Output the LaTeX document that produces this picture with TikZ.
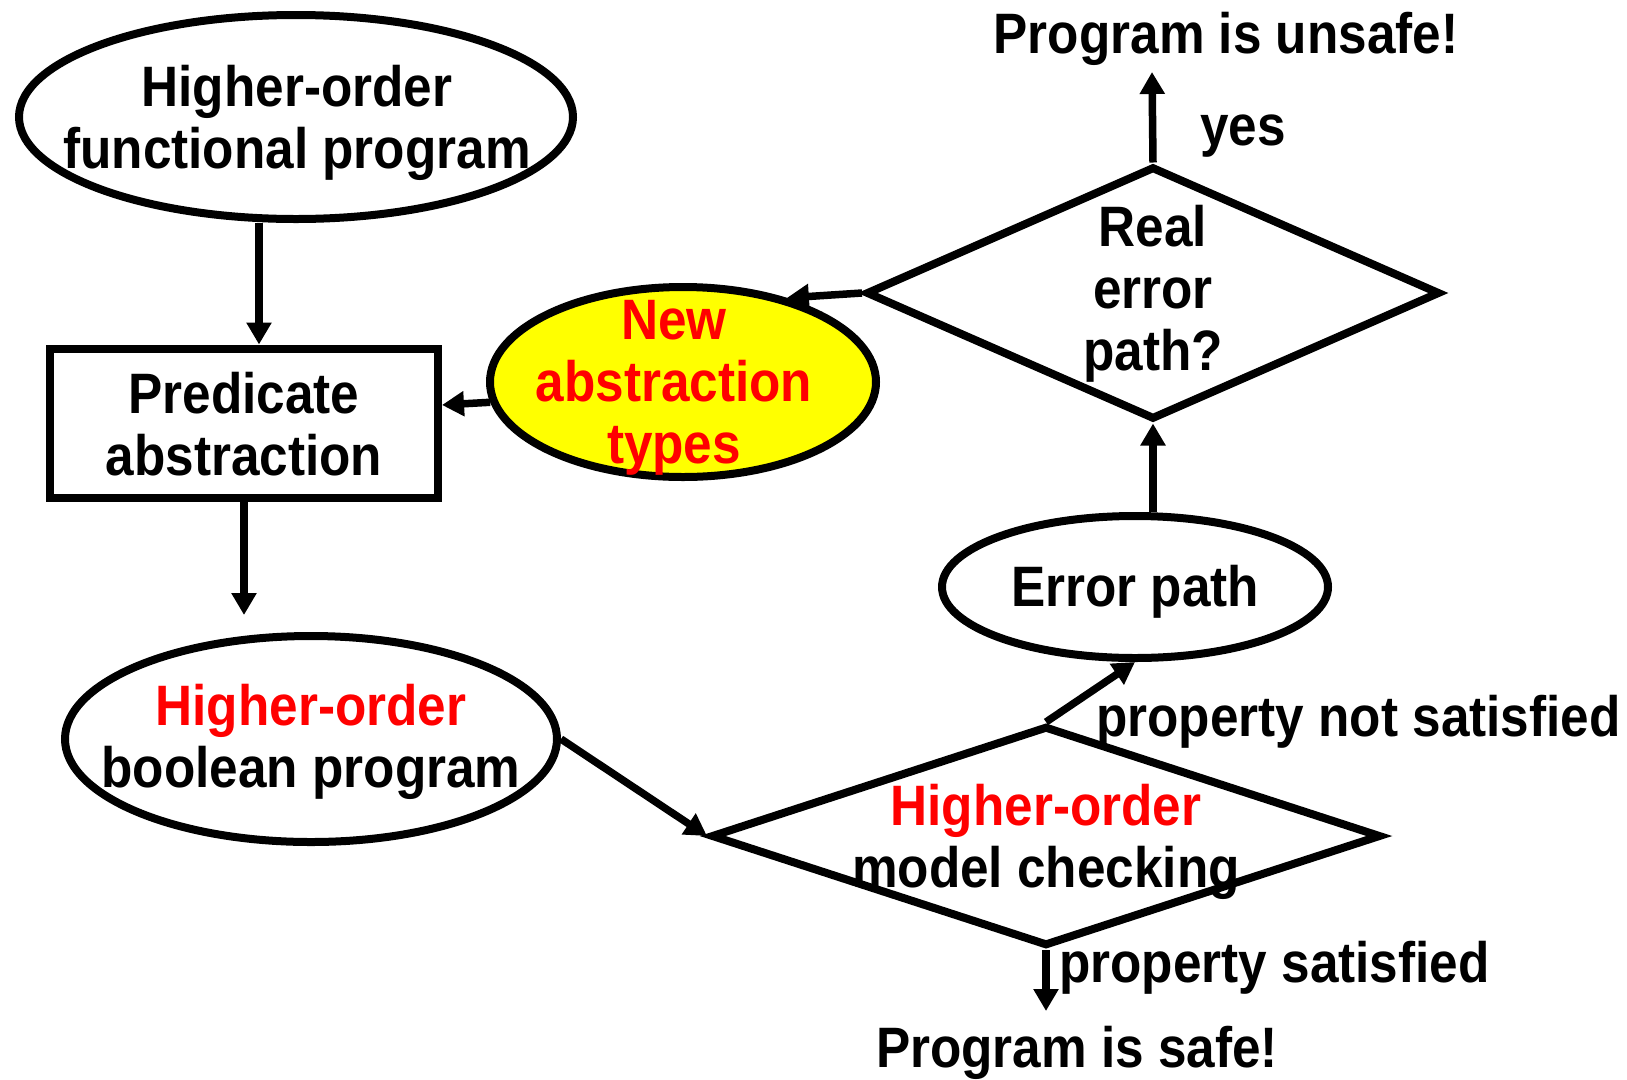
\documentclass[tikz,border=0pt]{standalone}
\usepackage{fontspec}
\setmainfont{Liberation Sans}[FakeStretch=0.9]
\usetikzlibrary{shapes.geometric,arrows.meta,calc}
\definecolor{hlred}{RGB}{255,0,0}
\definecolor{hlyellow}{RGB}{255,255,0}
\newcommand{\bigtxt}{\fontsize{57}{62}\selectfont\bfseries}
\tikzset{
  oval/.style={ellipse, draw, line width=8pt, inner sep=0pt},
  block/.style={rectangle, draw, line width=8pt, inner sep=0pt},
  decision/.style={diamond, draw, line width=8pt, inner sep=0pt},
  lbl/.style={align=center, inner sep=0pt, font=\bigtxt},
  arr/.style={line width=7.5pt, -{Triangle[length=22pt,width=24pt]}}
}
\begin{document}
\begin{tikzpicture}[x=1pt, y=-1pt]
  \fill[white] (0,0) rectangle (1627,1079);

  % shapes
  \node[oval, minimum width=554pt, minimum height=204pt] (fp) at (296,117) {};
  \node[block, minimum width=388pt, minimum height=149pt] (pa) at (244,423) {};
  \node[oval, fill=hlyellow, minimum width=386pt, minimum height=190pt] (ne) at (683,382) {};
  \node[decision, minimum width=574pt, minimum height=253pt] (rd) at (1153,293) {};
  \node[oval, minimum width=386pt, minimum height=142pt] (ep) at (1135,587) {};
  \node[oval, minimum width=492pt, minimum height=206pt] (bp) at (311,739) {};
  \node[decision, minimum width=670pt, minimum height=220pt] (mc) at (1046,836) {};

  % texts inside the shapes
  \node[lbl] (fptext) at (297,123) {Higher-order\\functional program};
  \node[lbl] (patext) at (244,424) {Predicate\\abstraction};
  \node[lbl, text=hlred] (netext) at (674,388) {New\\abstraction\\types};
  \node[lbl] (rdtext) at (1153,294) {Real\\error\\path?};
  \node[lbl] (eptext) at (1135,592) {Error path};
  \node[lbl] (bptext) at (311,742) {\textcolor{hlred}{Higher-order}\\boolean program};
  \node[lbl] (mctext) at (1046,842) {\textcolor{hlred}{Higher-order}\\model checking};

  % outcome texts and edge labels
  \node[lbl] (unsafe) at (1226,39) {Program is unsafe!};
  \node[lbl] (safe) at (1077,1053) {Program is safe!};
  \node[lbl] (yes) at (1243,136) {yes};
  \node[lbl, anchor=west] (pns) at (1096,722) {property not satisfied};
  \node[lbl, anchor=west] (ps) at (1059,968) {property satisfied};

  \coordinate (uptip) at (1152,72);
  \coordinate (downtip) at (1046,1011);

  % connectors
  \draw[arr] ([xshift=-37pt]fp.south) -- ([xshift=-37pt]fp.south |- pa.north);
  \draw[arr] (pa.south) -- ($(pa.south |- bp.north)+(0,-17)$);
  \draw[arr] (ne.186) -- ([yshift=18pt]pa.east);
  \draw[arr] (rd.west) -- (ne.39);
  \draw[arr] (rd.north) -- (uptip);
  \draw[arr] (rd.south |- ep.north) -- (rd.south);
  \draw[arr] (mc.north) -- (ep.south);
  \draw[arr] (bp.east) -- (mc.west);
  \draw[arr] (mc.south) -- (downtip);
\end{tikzpicture}
\end{document}
